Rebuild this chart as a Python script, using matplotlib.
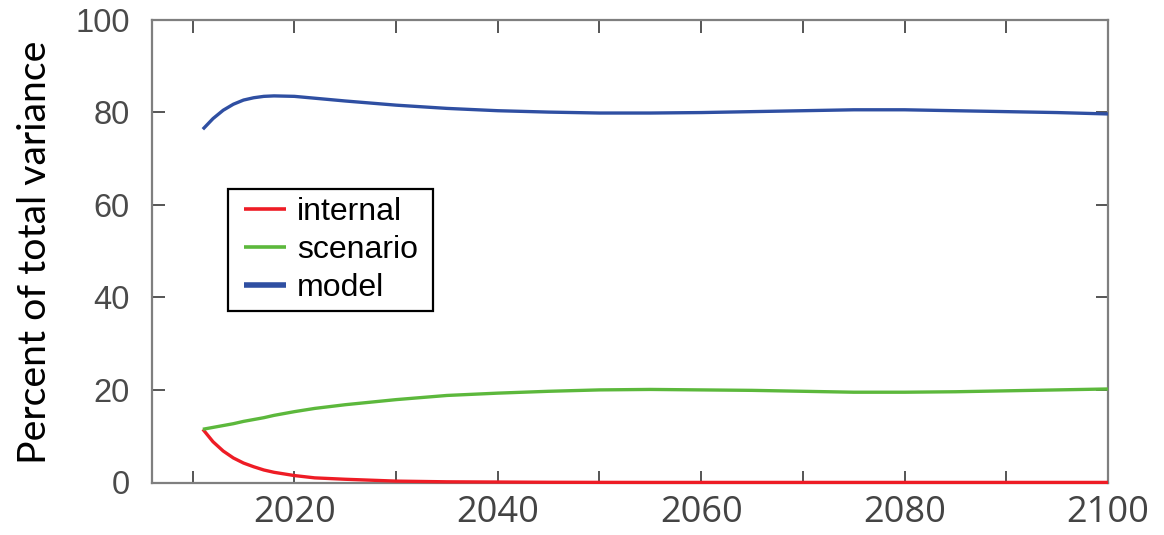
import matplotlib
matplotlib.use("Agg")
import matplotlib.pyplot as plt
from matplotlib.ticker import MultipleLocator
from matplotlib.patches import Rectangle

years = [2011, 2012, 2013, 2014, 2015, 2016, 2017, 2018, 2020, 2022, 2025, 2030,
         2035, 2040, 2045, 2050, 2055, 2060, 2065, 2070, 2075, 2080, 2085, 2090, 2095, 2100]
internal = [11.5, 8.8, 6.8, 5.3, 4.2, 3.4, 2.7, 2.2, 1.5, 1.0, 0.7, 0.3,
            0.15, 0.1, 0.05, 0.03, 0.02, 0.02, 0.02, 0.02, 0.02, 0.02, 0.02, 0.02, 0.02, 0.02]
scenario = [11.5, 11.9, 12.3, 12.7, 13.2, 13.6, 14.0, 14.5, 15.3, 16.0, 16.8, 17.9,
            18.8, 19.3, 19.7, 20.0, 20.1, 20.0, 19.9, 19.7, 19.5, 19.5, 19.6, 19.8, 20.0, 20.2]
model = [76.3, 78.6, 80.4, 81.7, 82.6, 83.1, 83.4, 83.5, 83.4, 83.0, 82.4, 81.5,
         80.8, 80.3, 80.0, 79.8, 79.8, 79.9, 80.1, 80.3, 80.5, 80.5, 80.3, 80.1, 79.9, 79.6]
series_names = ["internal", "scenario", "model"]
colors = ["#ee1c25", "#5cb83c", "#2f4fa2"]
xtick_labels = ["2020", "2040", "2060", "2080", "2100"]

W, H = 1164, 535
fig = plt.figure(figsize=(W / 100, H / 100), dpi=100)
ax = fig.add_axes([152/W, 1 - 482.5/H, (1108 - 152)/W, (482.5 - 19.5)/H])

for vals, name, c in zip([internal, scenario, model], series_names, colors):
    ax.plot(years, vals, color=c, lw=2.4, label=name, clip_on=False, zorder=3,
            solid_capstyle="butt")

ax.set_xlim(2006, 2100)
ax.set_ylim(0, 100)

spine_col = "#7f7f7f"
for s in ax.spines.values():
    s.set_color(spine_col)
    s.set_linewidth(1.6)

ax.yaxis.set_major_locator(MultipleLocator(20))
ax.tick_params(direction="in", length=9, width=1.4, color="#555555",
               top=True, right=True)
ax.tick_params(axis="y", labelsize=23.5, pad=16, labelcolor="#4a4a4a")
ax.tick_params(axis="x", labelsize=26, pad=9, labelcolor="#444444")

xt = list(range(2010, 2101, 10))
ax.set_xticks(xt)
ax.set_xticklabels([str(t) if str(t) in xtick_labels else "" for t in xt],
                   family="Open Sans")
for lab in ax.get_yticklabels():
    lab.set_family("Liberation Sans")

fig.text(35/W, 1 - 252/H, "Percent of total variance", rotation=90,
         ha="center", va="center", fontsize=28.3, family="Lato", color="black")

frame = Rectangle((228/W, 1 - 311/H), (433 - 228)/W, (311 - 189)/H,
                  transform=fig.transFigure, fill=True, facecolor="white",
                  edgecolor="black", linewidth=1.6, zorder=4, clip_on=False)
ax.add_patch(frame)

leg = ax.legend(loc="upper left", bbox_to_anchor=(244/W, 1 - 197/H),
                bbox_transform=fig.transFigure, borderaxespad=0,
                prop={"family": "Liberation Sans", "size": 23},
                handlelength=1.3, handletextpad=0.35, labelspacing=0.25,
                borderpad=0.0, frameon=False)
for h, w in zip(leg.get_lines(), [2.6, 2.6, 4.0]):
    h.set_linewidth(w)
leg.set_zorder(6)

fig.savefig("out.png", dpi=100)
